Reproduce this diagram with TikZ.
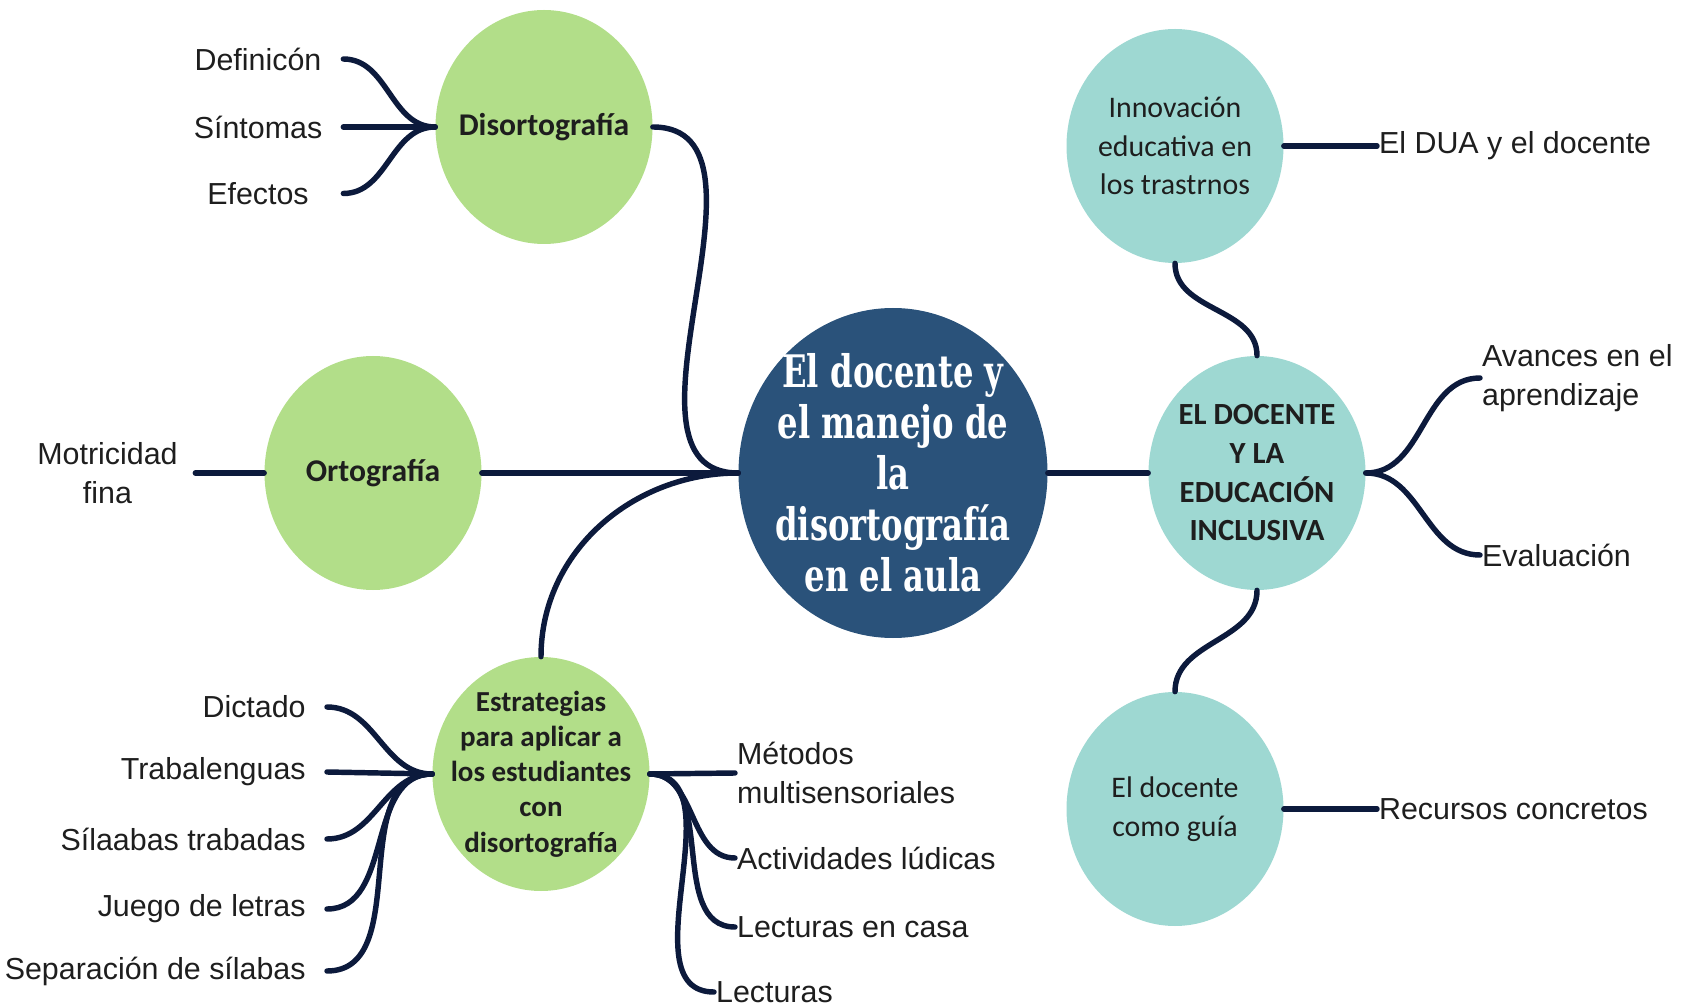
\documentclass[tikz,border=0pt]{standalone}
\usepackage{fontspec}
\setmainfont{Liberation Sans}
\newfontfamily\nodefont{Carlito}
\newfontfamily\slabfont[FakeStretch=0.72]{DejaVu Serif}
\usetikzlibrary{shapes.geometric}
\definecolor{mapgreen}{RGB}{178,222,137}
\definecolor{mapteal}{RGB}{158,216,210}
\definecolor{mapnavy}{RGB}{42,82,122}
\definecolor{linknavy}{RGB}{12,26,60}
\definecolor{leafgrey}{RGB}{30,30,30}

\begin{document}
\begin{tikzpicture}[
  topic/.style={ellipse, minimum width=4.34cm, minimum height=4.68cm, align=center, inner sep=-9pt, text=leafgrey, font=\nodefont\fontsize{17}{22}\selectfont},
  greentopic/.style={topic, fill=mapgreen, font=\nodefont\bfseries\fontsize{18}{22}\selectfont},
  tealtopic/.style={topic, fill=mapteal},
  leaf/.style={inner sep=1pt, align=left, text=leafgrey, font=\fontsize{17.3}{22}\selectfont},
  link/.style={linknavy, line width=3.1pt, line cap=round}
]
  \useasboundingbox (0,0) rectangle (33.92,-20.16);

  % centre
  \node[ellipse, fill=mapnavy, minimum width=6.18cm, minimum height=6.6cm, inner sep=-24pt, align=center, text=white, font=\slabfont\bfseries\fontsize{25.5}{29}\selectfont] (main) at (17.86,-9.46) {El docente y\\el manejo de\\la\\disortografía\\en el aula};

  % left topics
  \node[greentopic] (disorto) at (10.88,-2.54) {Disortografía};
  \node[greentopic] (orto) at (7.46,-9.46) {Ortografía};
  \node[greentopic, font=\nodefont\bfseries\fontsize{16.5}{20}\selectfont] (estrat) at (10.82,-15.48) {Estrategias\\para aplicar a\\los estudiantes\\con\\disortografía};

  % right topics
  \node[tealtopic] (innova) at (23.50,-2.92) {Innovación\\educativa en\\los trastrnos};
  \node[tealtopic, font=\nodefont\bfseries\fontsize{17.5}{22}\selectfont] (inclusiva) at (25.14,-9.46) {EL DOCENTE\\Y LA\\EDUCACIÓN\\INCLUSIVA};
  \node[tealtopic] (guia) at (23.50,-16.18) {El docente\\como guía};

  % leaves of Disortografía
  \node[leaf, minimum width=3.4cm, align=center] (defin) at (5.16,-1.18) {Definicón};
  \node[leaf, minimum width=3.4cm, align=center] (sintom) at (5.16,-2.54) {Síntomas};
  \node[leaf, minimum width=3.4cm, align=center] (efect) at (5.16,-3.87) {Efectos};

  % leaf of Ortografía
  \node[leaf, minimum width=3.5cm, align=center] (motric) at (2.15,-9.46) {Motricidad\\fina};

  % leaves of Estrategias
  \node[leaf, anchor=east, inner xsep=0.42cm] (dictado) at (6.54,-14.14) {Dictado};
  \node[leaf, anchor=east, inner xsep=0.42cm] (trabal) at (6.54,-15.44) {Trabalenguas};
  \node[leaf, anchor=east, inner xsep=0.42cm] (silabas) at (6.54,-16.78) {Sílaabas trabadas};
  \node[leaf, anchor=east, inner xsep=0.42cm] (juego) at (6.54,-18.18) {Juego de letras};
  \node[leaf, anchor=east, inner xsep=0.42cm] (separa) at (6.54,-19.42) {Separación de sílabas};
  \node[leaf, anchor=west] (metodos) at (14.70,-15.46) {Métodos\\multisensoriales};
  \node[leaf, anchor=west] (ludicas) at (14.70,-17.16) {Actividades lúdicas};
  \node[leaf, anchor=west] (encasa) at (14.70,-18.54) {Lecturas en casa};
  \node[leaf, anchor=west] (lecturas) at (14.28,-19.84) {Lecturas};

  % leaves of the right side
  \node[leaf, anchor=west] (dua) at (27.54,-2.92) {El DUA y el docente};
  \node[leaf, anchor=west] (avances) at (29.60,-7.56) {Avances en el\\aprendizaje};
  \node[leaf, anchor=west] (evalua) at (29.60,-11.10) {Evaluación};
  \node[leaf, anchor=west] (recursos) at (27.54,-16.18) {Recursos concretos};

  % connectors
  \draw[link] (disorto.east) to[out=0, in=180] (main.west);
  \draw[link] (orto.east) -- (main.west);
  \draw[link] (estrat.north) to[out=90, in=180] (main.west);
  \draw[link] (main.east) -- (inclusiva.west);
  \draw[link] (innova.south) to[out=-90, in=90] (inclusiva.north);
  \draw[link] (inclusiva.south) to[out=-90, in=90] (guia.north);

  \draw[link] (defin.east) to[out=0, in=180] (disorto.west);
  \draw[link] (sintom.east) -- (disorto.west);
  \draw[link] (efect.east) to[out=0, in=180] (disorto.west);
  \draw[link] (motric.east) -- (orto.west);

  \draw[link] (dictado.east) to[out=0, in=180] (estrat.west);
  \draw[link] (trabal.east) -- (estrat.west);
  \draw[link] (silabas.east) to[out=0, in=180] (estrat.west);
  \draw[link] (juego.east) to[out=0, in=180] (estrat.west);
  \draw[link] (separa.east) to[out=0, in=180] (estrat.west);
  \draw[link] (estrat.east) -- (metodos.west);
  \draw[link] (estrat.east) to[out=0, in=180] (ludicas.west);
  \draw[link] (estrat.east) to[out=0, in=180] (encasa.west);
  \draw[link] (estrat.east) to[out=0, in=180] (lecturas.west);

  \draw[link] (innova.east) -- (dua.west);
  \draw[link] (inclusiva.east) to[out=0, in=180] (avances.west);
  \draw[link] (inclusiva.east) to[out=0, in=180] (evalua.west);
  \draw[link] (guia.east) -- (recursos.west);
\end{tikzpicture}
\end{document}
